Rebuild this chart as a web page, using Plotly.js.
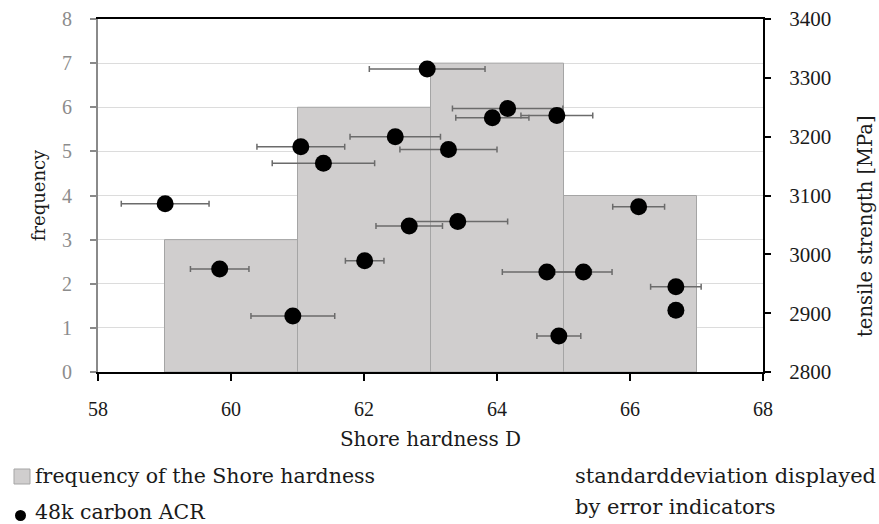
<!DOCTYPE html>
<html>
<head>
<meta charset="utf-8">
<script src="https://cdn.plot.ly/plotly-3.0.1.min.js"></script>
<style>
  html, body { margin: 0; padding: 0; background: #fff; }
  #chart { width: 879px; height: 524px; }
</style>
</head>
<body>
<div id="chart"></div>
<script>
// Histogram of Shore hardness D (bin centres, width 2)
const binCenters = [60, 62, 64, 66];
const binCounts = [3, 6, 7, 4];

// Individual specimens: Shore hardness D, its standard deviation, tensile strength [MPa]
const shoreHardness = [59.01, 59.83, 60.93, 61.05, 61.39, 62.01, 62.47, 62.68, 62.95, 63.27,
                       63.41, 63.93, 64.16, 64.75, 64.90, 64.93, 65.30, 66.13, 66.69, 66.69];
const shoreSD = [0.66, 0.44, 0.63, 0.66, 0.77, 0.29, 0.68, 0.50, 0.87, 0.73,
                 0.75, 0.55, 0.83, 0.67, 0.54, 0.33, 0.43, 0.39, 0.38, 0];
const tensileStrength = [3086, 2975, 2895, 3183, 3155, 2989, 3200, 3048, 3315, 3178,
                         3056, 3232, 3248, 2970, 3236, 2861, 2970, 3081, 2945, 2905];

const xTicks = [58, 60, 62, 64, 66, 68];
const TEXT_FONT = 'DejaVu Serif, serif';
const NUM_FONT = 'Liberation Serif, serif';

// plot area in pixels, used to place the legend texts in paper coordinates
const PL = 98, PR = 763, PT = 19, PB = 372;
const px = v => (v - PL) / (PR - PL);
const py = v => (PB - v) / (PB - PT);

const histogram = {
  type: 'bar',
  x: binCenters,
  y: binCounts,
  width: 2,
  marker: { color: '#d0cece', line: { color: '#a5a5a5', width: 1 } },
  xaxis: 'x', yaxis: 'y',
  showlegend: false,
  hoverinfo: 'x+y'
};

const specimens = {
  type: 'scatter',
  mode: 'markers',
  x: shoreHardness,
  y: tensileStrength,
  error_x: { type: 'data', array: shoreSD, visible: true, color: '#6b6b6b', thickness: 1.5, width: 3 },
  marker: { color: '#000', size: 17 },
  xaxis: 'x', yaxis: 'y2',
  showlegend: false
};

const layout = {
  width: 879, height: 524,
  margin: { l: PL, r: 879 - PR, t: PT, b: 524 - PB },
  paper_bgcolor: '#fff', plot_bgcolor: '#fff',
  font: { family: TEXT_FONT, size: 20, color: '#1a1a1a' },
  xaxis: {
    range: [58, 68], tickvals: xTicks, ticktext: xTicks.map(String),
    showgrid: false, zeroline: false,
    showline: true, linecolor: '#000', linewidth: 2, mirror: true,
    ticks: 'outside', ticklen: 7, tickwidth: 2, tickcolor: '#000',
    ticklabelstandoff: 11,
    tickfont: { family: NUM_FONT, size: 20, color: '#1a1a1a' },
    title: { text: 'Shore hardness D', font: { family: TEXT_FONT, size: 20, color: '#1a1a1a' }, standoff: 13 }
  },
  yaxis: {
    range: [0, 8], dtick: 1,
    showgrid: true, gridcolor: '#dcdcdc', gridwidth: 1, zeroline: false,
    showline: true, linecolor: '#8a8a8a', linewidth: 2,
    ticks: 'outside', ticklen: 6, tickwidth: 2, tickcolor: '#8a8a8a',
    ticklabelstandoff: 14,
    tickfont: { family: NUM_FONT, size: 20, color: '#8c8c8c' },
    title: { text: 'frequency', font: { family: TEXT_FONT, size: 18, color: '#1a1a1a' }, standoff: 12 }
  },
  yaxis2: {
    range: [2800, 3400], dtick: 100,
    overlaying: 'y', side: 'right', anchor: 'x',
    showgrid: false, zeroline: false,
    showline: true, linecolor: '#000', linewidth: 2,
    ticks: 'outside', ticklen: 6, tickwidth: 2, tickcolor: '#000',
    ticklabelstandoff: 14,
    tickfont: { family: NUM_FONT, size: 21, color: '#1a1a1a' }
  },
  shapes: [
    // legend swatch for the histogram
    { type: 'rect', xref: 'paper', yref: 'paper',
      x0: px(14), x1: px(30), y0: py(484), y1: py(469),
      fillcolor: '#d0cece', line: { color: '#a5a5a5', width: 1 } },
    // legend dot for the specimens
    { type: 'circle', xref: 'paper', yref: 'paper',
      x0: px(15), x1: px(26), y0: py(521), y1: py(510),
      fillcolor: '#000', line: { color: '#000', width: 0 } }
  ],
  annotations: [
    // right axis title, centred on the chart body rather than the axis
    { xref: 'paper', yref: 'paper', x: px(865), y: py(226),
      xanchor: 'center', yanchor: 'middle', showarrow: false, textangle: -90,
      text: 'tensile strength [MPa]', font: { family: TEXT_FONT, size: 19.5, color: '#1a1a1a' } },
    { xref: 'paper', yref: 'paper', x: px(33), y: py(476),
      xanchor: 'left', yanchor: 'middle', showarrow: false,
      text: 'frequency of the Shore hardness', font: { family: TEXT_FONT, size: 20.5, color: '#1a1a1a' } },
    { xref: 'paper', yref: 'paper', x: px(33), y: py(512),
      xanchor: 'left', yanchor: 'middle', showarrow: false,
      text: '48k carbon ACR', font: { family: TEXT_FONT, size: 20.5, color: '#1a1a1a' } },
    { xref: 'paper', yref: 'paper', x: px(573), y: py(476),
      xanchor: 'left', yanchor: 'middle', showarrow: false,
      text: 'standarddeviation displayed', font: { family: TEXT_FONT, size: 21, color: '#1a1a1a' } },
    { xref: 'paper', yref: 'paper', x: px(573), y: py(507),
      xanchor: 'left', yanchor: 'middle', showarrow: false,
      text: 'by error indicators', font: { family: TEXT_FONT, size: 21, color: '#1a1a1a' } }
  ]
};

Plotly.newPlot('chart', [histogram, specimens], layout, { displayModeBar: false, responsive: false });
</script>
</body>
</html>
